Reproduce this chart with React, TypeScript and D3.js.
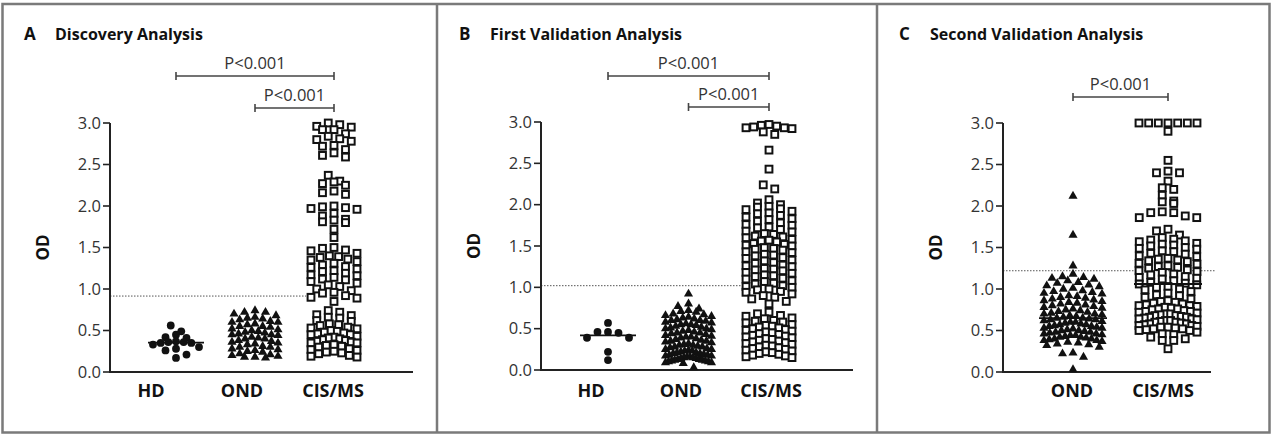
import React from "react";
import * as d3 from "d3";

// ---- data (OD values) ----
const catsAB = ["HD", "OND", "CIS/MS"];
const catsC = ["OND", "CIS/MS"];
const yTicks = [0, 0.5, 1.0, 1.5, 2.0, 2.5, 3.0];

// A  Discovery Analysis
const aHD = [0.56, 0.49, 0.45, 0.42, 0.41, 0.37, 0.36, 0.36, 0.35, 0.35, 0.33, 0.30, 0.28, 0.26, 0.21, 0.17];
const aOND = [0.74, 0.72, 0.72, 0.70, 0.68, 0.66, 0.65, 0.64, 0.63, 0.61, 0.60, 0.60, 0.58, 0.57, 0.55, 0.55, 0.54,
  0.52, 0.51, 0.50, 0.49, 0.48, 0.47, 0.46, 0.45, 0.45, 0.44, 0.42, 0.41, 0.40, 0.40, 0.38, 0.37, 0.36, 0.35,
  0.34, 0.33, 0.31, 0.30, 0.30, 0.28, 0.27, 0.26, 0.25, 0.24, 0.22, 0.21, 0.20, 0.19, 0.18, 0.18, 0.17];
const aCIS = [3.00, 2.98, 2.96, 2.95, 2.92, 2.92, 2.87, 2.84, 2.81, 2.80, 2.78, 2.73, 2.72, 2.68, 2.64, 2.61, 2.59,
  2.37, 2.30, 2.29, 2.27, 2.25, 2.18, 2.16, 2.14,
  2.00, 1.99, 1.98, 1.97, 1.96, 1.91, 1.88, 1.84, 1.83, 1.81, 1.80, 1.72, 1.62,
  1.50, 1.49, 1.47, 1.46, 1.43, 1.40, 1.39, 1.38, 1.36, 1.35, 1.33, 1.31, 1.29, 1.27, 1.26, 1.24, 1.22, 1.21,
  1.19, 1.17, 1.16, 1.14, 1.12, 1.11, 1.09, 1.07, 1.05, 1.03, 1.00, 0.98, 0.96, 0.95, 0.92, 0.90, 0.89, 0.85,
  0.74, 0.72, 0.69, 0.68, 0.66, 0.65, 0.62, 0.61, 0.58, 0.57, 0.56, 0.54, 0.53, 0.52, 0.50, 0.49, 0.48, 0.47,
  0.46, 0.45, 0.45, 0.43, 0.42, 0.41, 0.40, 0.39, 0.38, 0.37, 0.36, 0.35, 0.35, 0.33, 0.32, 0.31, 0.30, 0.28,
  0.27, 0.26, 0.25, 0.24, 0.23, 0.22, 0.20, 0.19, 0.18];

// B  First Validation Analysis
const bHD = [0.57, 0.46, 0.46, 0.45, 0.39, 0.39, 0.22, 0.12];
const bOND = [0.92, 0.80, 0.77, 0.74, 0.72, 0.71, 0.70, 0.68, 0.67, 0.66, 0.65, 0.64, 0.63, 0.62, 0.61, 0.60, 0.60,
  0.59, 0.58, 0.57, 0.56, 0.55, 0.55, 0.54, 0.53, 0.52, 0.51, 0.50, 0.50, 0.49, 0.48, 0.47, 0.46, 0.45, 0.45,
  0.44, 0.43, 0.42, 0.41, 0.40, 0.40, 0.39, 0.38, 0.37, 0.36, 0.35, 0.35, 0.34, 0.33, 0.32, 0.31, 0.30, 0.30,
  0.29, 0.28, 0.28, 0.27, 0.26, 0.25, 0.25, 0.24, 0.23, 0.23, 0.22, 0.21, 0.21, 0.20, 0.20, 0.19, 0.18, 0.18,
  0.17, 0.17, 0.16, 0.16, 0.15, 0.15, 0.14, 0.14, 0.13, 0.13, 0.12, 0.12, 0.11, 0.11, 0.10, 0.10, 0.09, 0.09,
  0.08, 0.03];
const bCIS = [2.97, 2.96, 2.95, 2.94, 2.93, 2.93, 2.92, 2.88, 2.85, 2.66, 2.43, 2.24, 2.19, 2.06,
  2.02, 2.00, 1.98, 1.97, 1.95, 1.94, 1.92, 1.90, 1.89, 1.87, 1.85, 1.83, 1.82, 1.80, 1.78, 1.76, 1.75, 1.73,
  1.72, 1.70, 1.68, 1.67, 1.65, 1.64, 1.62, 1.61, 1.60, 1.58, 1.57, 1.56, 1.55, 1.53, 1.52, 1.51, 1.50, 1.48,
  1.47, 1.46, 1.45, 1.43, 1.42, 1.40, 1.39, 1.38, 1.36, 1.35, 1.33, 1.32, 1.30, 1.29, 1.27, 1.26, 1.25, 1.23,
  1.22, 1.21, 1.20, 1.18, 1.17, 1.15, 1.14, 1.13, 1.11, 1.10, 1.08, 1.07, 1.05, 1.04, 1.02, 1.01, 1.00, 0.98,
  0.97, 0.95, 0.94, 0.92, 0.90, 0.88, 0.86, 0.83, 0.80,
  0.70, 0.68, 0.66, 0.65, 0.63, 0.62, 0.60, 0.59, 0.58, 0.57, 0.55, 0.54, 0.53, 0.52, 0.51, 0.50, 0.49, 0.48,
  0.47, 0.46, 0.45, 0.44, 0.43, 0.42, 0.41, 0.40, 0.39, 0.38, 0.37, 0.36, 0.35, 0.34, 0.33, 0.32, 0.31, 0.30,
  0.29, 0.28, 0.27, 0.26, 0.25, 0.24, 0.23, 0.22, 0.21, 0.20, 0.19, 0.18, 0.17, 0.16, 0.15];

// C  Second Validation Analysis
const cOND = [2.12, 1.65, 1.28, 1.18, 1.15, 1.14, 1.13, 1.12, 1.10, 1.08, 1.07, 1.05, 1.04, 1.03, 1.01, 1.00, 0.98,
  0.97, 0.96, 0.95, 0.94, 0.92, 0.91, 0.90, 0.89, 0.88, 0.87, 0.86, 0.85, 0.84, 0.83, 0.82, 0.81, 0.80, 0.79,
  0.78, 0.77, 0.76, 0.75, 0.74, 0.73, 0.72, 0.71, 0.70, 0.70, 0.69, 0.68, 0.67, 0.66, 0.65, 0.65, 0.64, 0.63,
  0.63, 0.62, 0.61, 0.60, 0.60, 0.59, 0.58, 0.57, 0.57, 0.56, 0.55, 0.55, 0.54, 0.53, 0.53, 0.52, 0.51, 0.50,
  0.50, 0.49, 0.48, 0.48, 0.47, 0.46, 0.46, 0.45, 0.44, 0.44, 0.43, 0.42, 0.42, 0.41, 0.40, 0.40, 0.39, 0.38,
  0.38, 0.37, 0.36, 0.35, 0.34, 0.33, 0.32, 0.30, 0.23, 0.22, 0.18, 0.03];
const cCIS = [3.00, 3.00, 3.00, 3.00, 3.00, 3.00, 3.00, 2.90, 2.55, 2.42, 2.40, 2.40, 2.30, 2.22, 2.20, 2.13, 2.06,
  2.05, 2.03, 1.93, 1.92, 1.92, 1.88, 1.86, 1.86, 1.72, 1.70, 1.65,
  1.62, 1.60, 1.59, 1.58, 1.57, 1.55, 1.54, 1.53, 1.52, 1.50, 1.49, 1.48, 1.46, 1.45, 1.43, 1.42, 1.40, 1.39,
  1.37, 1.36, 1.35, 1.34, 1.33, 1.31, 1.30, 1.28, 1.27, 1.26, 1.25, 1.23, 1.22, 1.21, 1.20, 1.18, 1.17, 1.15,
  1.14, 1.13, 1.12, 1.10, 1.08, 1.07, 1.06, 1.05, 1.03, 1.02, 1.00,
  0.99, 0.97, 0.95, 0.93, 0.92, 0.90, 0.88, 0.86, 0.85,
  0.84, 0.83, 0.82, 0.81, 0.80, 0.80, 0.79, 0.78, 0.77, 0.76, 0.76, 0.75, 0.74, 0.73, 0.73, 0.72, 0.71, 0.70,
  0.70, 0.69, 0.68, 0.68, 0.67, 0.66, 0.66, 0.65, 0.64, 0.64, 0.63, 0.62, 0.62, 0.61, 0.60, 0.60, 0.59, 0.58,
  0.58, 0.57, 0.56, 0.56, 0.55, 0.54, 0.54, 0.53, 0.52, 0.52, 0.51, 0.50, 0.50,
  0.48, 0.46, 0.45, 0.42, 0.40, 0.38, 0.38, 0.28];

const cutoffs = [0.915, 1.02, 1.22];

type Shape = "circle" | "triangle" | "square";
type Group = { cat: string; values: number[]; shape: Shape; median: boolean };

const panels = [
  {
    letter: "A", title: "Discovery Analysis", frame: [2, 437], axisX: 110, axisEnd: 413, yRange: [372, 123],
    cats: catsAB, catRange: [176, 334], labelRange: [151, 333], half: 23, cutoff: cutoffs[0], cutoffFull: false,
    groups: [
      { cat: "HD", values: aHD, shape: "circle", median: true },
      { cat: "OND", values: aOND, shape: "triangle", median: false },
      { cat: "CIS/MS", values: aCIS, shape: "square", median: false },
    ] as Group[],
    brackets: [{ from: "HD", to: "CIS/MS", y: 76 }, { from: "OND", to: "CIS/MS", y: 108 }],
  },
  {
    letter: "B", title: "First Validation Analysis", frame: [437, 877], axisX: 541, axisEnd: 853, yRange: [370, 122],
    cats: catsAB, catRange: [608, 769], labelRange: [591, 771], half: 23, cutoff: cutoffs[1], cutoffFull: false,
    groups: [
      { cat: "HD", values: bHD, shape: "circle", median: true },
      { cat: "OND", values: bOND, shape: "triangle", median: false },
      { cat: "CIS/MS", values: bCIS, shape: "square", median: false },
    ] as Group[],
    brackets: [{ from: "HD", to: "CIS/MS", y: 76 }, { from: "OND", to: "CIS/MS", y: 107 }],
  },
  {
    letter: "C", title: "Second Validation Analysis", frame: [877, 1270], axisX: 1003, axisEnd: 1211, yRange: [372, 123],
    cats: catsC, catRange: [1073, 1168], labelRange: [1072, 1163], half: 29, cutoff: cutoffs[2], cutoffFull: true,
    groups: [
      { cat: "OND", values: cOND, shape: "triangle", median: true },
      { cat: "CIS/MS", values: cCIS, shape: "square", median: true },
    ] as Group[],
    brackets: [{ from: "OND", to: "CIS/MS", y: 97 }],
  },
];

const FONT = "'Open Sans', Lato, sans-serif";

// prism-like column scatter: rows of nearby values spread symmetrically
function swarm(values: number[], y: d3.ScaleLinear<number, number>, cx: number, step: number, maxHalf: number, rowH: number) {
  const sorted = [...values].sort((a, b) => b - a);
  const rows: number[][] = [];
  let cur: number[] = [];
  let start = 0;
  for (const v of sorted) {
    const py = y(v);
    if (cur.length && py - start > rowH) {
      rows.push(cur);
      cur = [];
    }
    if (!cur.length) start = py;
    cur.push(v);
  }
  if (cur.length) rows.push(cur);
  const out: { v: number; x: number; y: number }[] = [];
  rows.forEach((row) => {
    const n = row.length;
    const s = n > 1 ? Math.min(step, (2 * maxHalf) / (n - 1)) : 0;
    const slots = d3.range(n).map((i) => (i - (n - 1) / 2) * s);
    const order = slots.slice().sort((a, b) => Math.abs(a) - Math.abs(b) || a - b);
    row.forEach((v, i) => out.push({ v, x: cx + order[i], y: y(v) }));
  });
  return out;
}

const triPath = d3.symbol(d3.symbolTriangle, 36)()!;

function Marker({ shape, x, y }: { shape: Shape; x: number; y: number }) {
  if (shape === "circle") return <circle cx={x} cy={y} r={3.9} fill="#111" />;
  if (shape === "triangle") return <path d={triPath} transform={`translate(${x},${y})`} fill="#111" />;
  return <rect x={x - 3.4} y={y - 3.4} width={6.8} height={6.8} fill="#fff" stroke="#111" strokeWidth={2} />;
}

function Panel({ p }: { p: (typeof panels)[number] }) {
  const y = d3.scaleLinear().domain([0, 3]).range(p.yRange);
  const x = d3.scalePoint<string>().domain(p.cats).range(p.catRange as [number, number]);
  const xl = d3.scalePoint<string>().domain(p.cats).range(p.labelRange as [number, number]);
  const yMid = (p.yRange[0] + p.yRange[1]) / 2;
  const lastCat = p.cats[p.cats.length - 1];
  const cutEnd = p.cutoffFull ? p.axisEnd + 5 : x(lastCat)! - p.half - 5;
  const [fx0] = p.frame;
  return (
    <g>
      <text x={fx0 + 22} y={40} fontFamily={FONT} fontWeight={700} fontSize={17} fill="#111">{p.letter}</text>
      <text x={fx0 + 53} y={40} fontFamily={FONT} fontWeight={700} fontSize={16} fill="#111">{p.title}</text>
      {/* significance brackets */}
      {p.brackets.map((b, i) => {
        const x1 = x(b.from)!;
        const x2 = x(b.to)!;
        return (
          <g key={i} stroke="#444" strokeWidth={1.6}>
            <line x1={x1} x2={x2} y1={b.y} y2={b.y} />
            <line x1={x1} x2={x1} y1={b.y - 4} y2={b.y + 4} />
            <line x1={x2} x2={x2} y1={b.y - 4} y2={b.y + 4} />
            <text x={(x1 + x2) / 2} y={b.y - 7} textAnchor="middle" fontFamily={FONT} fontSize={16.5} fill="#333" stroke="none">P&lt;0.001</text>
          </g>
        );
      })}
      {/* cutoff */}
      <line x1={p.axisX} x2={cutEnd} y1={y(p.cutoff)} y2={y(p.cutoff)} stroke="#555" strokeWidth={1} strokeDasharray="1.5,1.5" />
      {/* axes */}
      <line x1={p.axisX} x2={p.axisX} y1={y(3)} y2={y(0)} stroke="#222" strokeWidth={2} />
      <line x1={p.axisX - 1} x2={p.axisEnd} y1={y(0)} y2={y(0)} stroke="#222" strokeWidth={2} />
      {yTicks.map((t) => (
        <g key={t}>
          <line x1={p.axisX - 7} x2={p.axisX} y1={y(t)} y2={y(t)} stroke="#222" strokeWidth={1.6} />
          <text x={p.axisX - 9} y={y(t)} dy="0.35em" textAnchor="end" fontFamily={FONT} fontSize={16.5} fill="#333">{t.toFixed(1)}</text>
        </g>
      ))}
      <text transform={`translate(${p.axisX - 67},${yMid}) rotate(-90)`} textAnchor="middle" dy="0.35em" fontFamily={FONT} fontWeight={700} fontSize={17} fill="#111">OD</text>
      {p.cats.map((c) => (
        <text key={c} x={xl(c)} y={397} textAnchor="middle" fontFamily={FONT} fontWeight={700} fontSize={18} fill="#111">{c}</text>
      ))}
      {/* points */}
      {p.groups.map((g) => {
        const cx = x(g.cat)!;
        const step = g.shape === "square" ? 11.5 : 10.5;
        const pts = swarm(g.values, y, cx, step, p.half, 6.5);
        const med = d3.median(g.values)!;
        return (
          <g key={g.cat}>
            {pts.map((d, i) => <Marker key={i} shape={g.shape} x={d.x} y={d.y} />)}
            {g.median && (
              <line x1={cx - p.half - 5} x2={cx + p.half + 5} y1={y(med)} y2={y(med)} stroke="#111" strokeWidth={1.8} />
            )}
          </g>
        );
      })}
    </g>
  );
}

export default function App() {
  return (
    <div style={{ position: "absolute", left: 0, top: 0, background: "#fff" }}>
      <svg width={1272} height={435} viewBox="0 0 1272 435">
        <rect x={0} y={0} width={1272} height={435} fill="#fff" />
        {panels.map((p) => <Panel key={p.letter} p={p} />)}
        {/* frames */}
        <rect x={2.5} y={4} width={1267} height={428.5} fill="none" stroke="#7a7a7a" strokeWidth={2.5} />
        <line x1={437} x2={437} y1={4} y2={432.5} stroke="#7a7a7a" strokeWidth={2.5} />
        <line x1={877} x2={877} y1={4} y2={432.5} stroke="#7a7a7a" strokeWidth={2.5} />
      </svg>
    </div>
  );
}
